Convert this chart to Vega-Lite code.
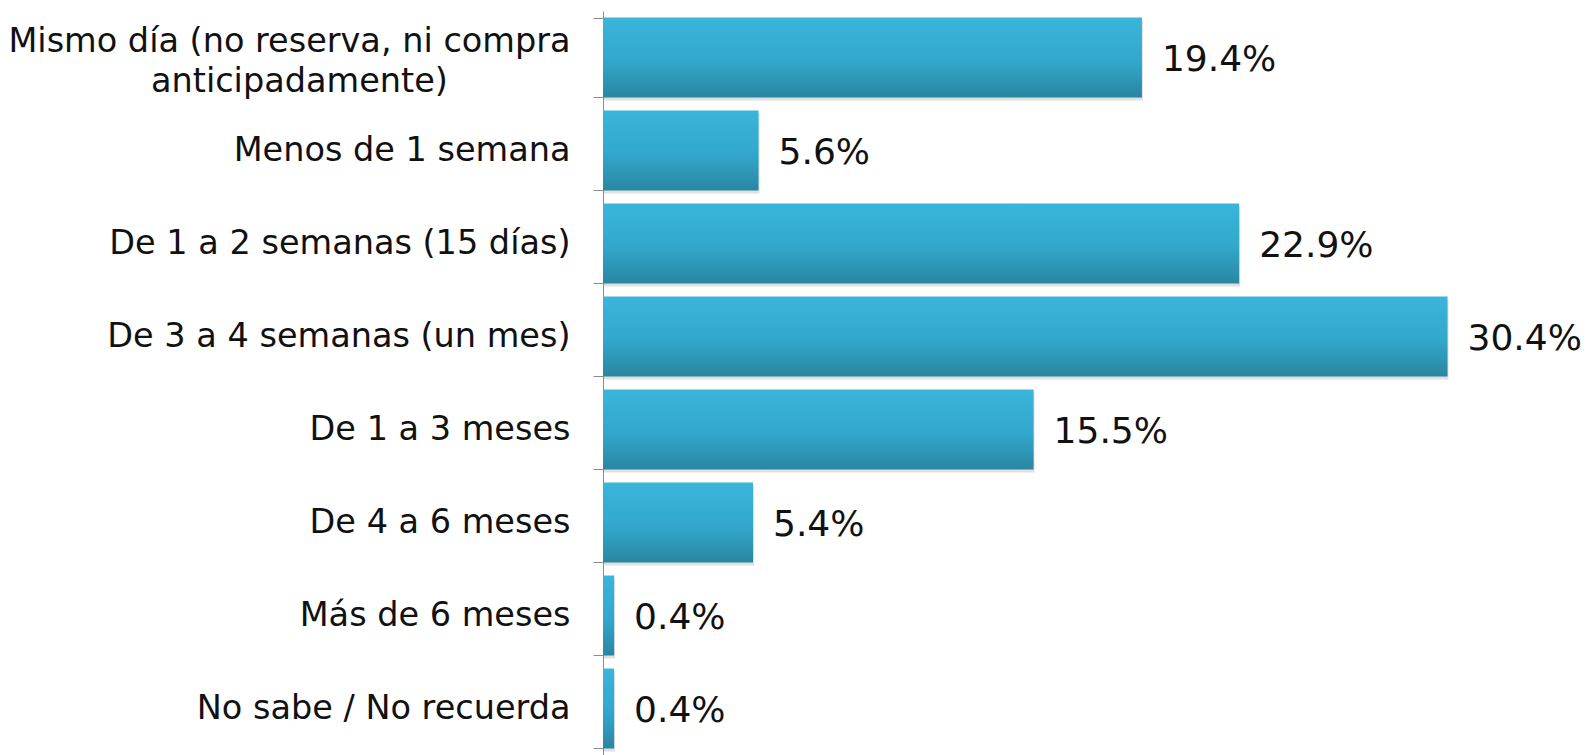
{
  "$schema": "https://vega.github.io/schema/vega-lite/v6.json",
  "width": 989,
  "height": 744,
  "autosize": {"type": "none"},
  "padding": {"left": 603, "top": 11, "right": 0, "bottom": 0},
  "background": "white",
  "config": {"view": {"stroke": null}, "font": "DejaVu Sans"},
  "data": {
    "values": [
      {"cat": "Mismo día (no reserva, ni compra anticipadamente)", "pct": 0.194},
      {"cat": "Menos de 1 semana", "pct": 0.056},
      {"cat": "De 1 a 2 semanas (15 días)", "pct": 0.229},
      {"cat": "De 3 a 4 semanas (un mes)", "pct": 0.304},
      {"cat": "De 1 a 3 meses", "pct": 0.155},
      {"cat": "De 4 a 6 meses", "pct": 0.054},
      {"cat": "Más de 6 meses", "pct": 0.004},
      {"cat": "No sabe / No recuerda", "pct": 0.004}
    ]
  },
  "encoding": {
    "y": {
      "field": "cat",
      "type": "nominal",
      "sort": null,
      "scale": {"paddingInner": 0.14, "paddingOuter": 0.07},
      "axis": {
        "title": null,
        "tickBand": "extent",
        "tickSize": 10,
        "tickColor": "#8c8c8c",
        "domainColor": "#8c8c8c",
        "labelPadding": 23,
        "labelFontSize": 33.5,
        "labelColor": "#111111",
        "labelLimit": 700,
        "labelLineHeight": 40,
        "labelOffset": {"condition": {"test": "datum.value == 'Mismo día (no reserva, ni compra anticipadamente)'", "value": -16}, "value": 0},
        "labelExpr": "datum.value == 'Mismo día (no reserva, ni compra anticipadamente)' ? ['Mismo día (no reserva, ni compra', 'anticipadamente)\u2800\u2800\u2800\u2800\u2800'] : datum.value"
      }
    },
    "x": {
      "field": "pct",
      "type": "quantitative",
      "scale": {"domain": [0, 0.356], "nice": false, "zero": true},
      "axis": null
    }
  },
  "layer": [
    {
      "mark": {"type": "bar", "color": "#000000", "opacity": 0.12, "yOffset": 3, "xOffset": 1}
    },
    {
      "mark": {
        "type": "bar",
        "color": {
          "gradient": "linear",
          "x1": 0, "y1": 0, "x2": 0, "y2": 1,
          "stops": [
            {"offset": 0, "color": "#3ab5db"},
            {"offset": 0.55, "color": "#32a7cb"},
            {"offset": 1, "color": "#2986a1"}
          ]
        }
      }
    },
    {
      "mark": {"type": "text", "align": "left", "baseline": "middle", "dx": 20, "dy": 2, "fontSize": 36, "color": "#111111"},
      "encoding": {"text": {"field": "pct", "type": "quantitative", "format": ".1%"}}
    }
  ]
}
